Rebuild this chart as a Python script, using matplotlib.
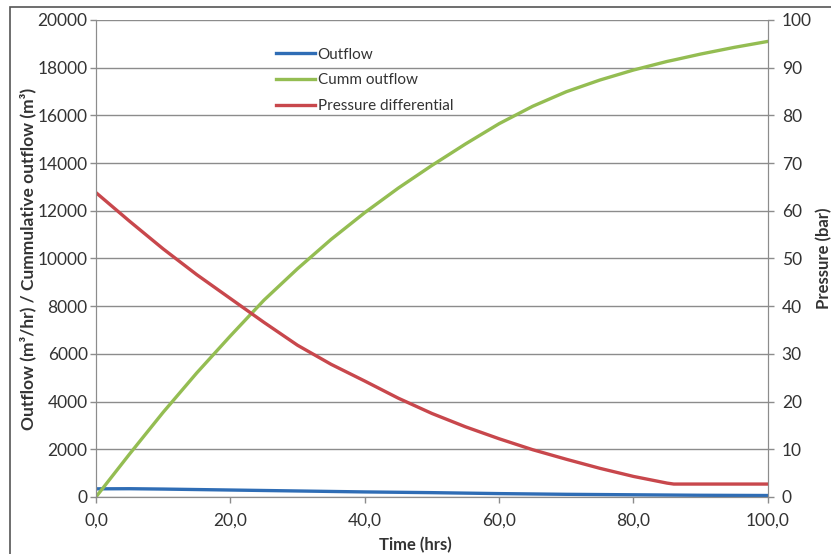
############################### DATA ##########################################

import numpy as np
import matplotlib.pyplot as plt
from matplotlib.patches import Rectangle

# tijd in uren
time_hrs = [0, 5, 10, 15, 20, 25, 30, 35, 40, 45, 50,
            55, 60, 65, 70, 75, 80, 85, 86, 90, 95, 100]

# outflow (m3/hr)
outflow = [340, 345, 330, 310, 290, 270, 250, 230, 210, 195, 180,
           160, 140, 125, 110, 100, 90, 80, 78, 70, 65, 60]

# cumulatieve outflow (m3)
cumm_outflow = [0, 1800, 3550, 5200, 6750, 8250, 9570, 10800, 11920, 12950, 13900,
                14800, 15650, 16380, 16990, 17480, 17900, 18260, 18320, 18570, 18850, 19100]

# drukverschil (bar)
pressure = [63.8, 57.8, 52.0, 46.6, 41.6, 36.6, 31.8, 27.8, 24.3, 20.7, 17.5,
            14.7, 12.2, 9.9, 7.9, 6.0, 4.3, 2.9, 2.7, 2.7, 2.7, 2.7]

left_ticks  = list(range(0, 20001, 2000))
right_ticks = list(range(0, 101, 10))
x_ticks     = [0, 20, 40, 60, 80, 100]

############################### STYLE #########################################

plt.rcParams['font.family'] = ['Lato', 'DejaVu Sans']
c_blue  = '#2F6DB5'
c_green = '#94BD52'
c_red   = '#C8474C'
c_grid  = '#8C8C8C'
c_text  = '#333333'

############################### PLOT ##########################################

fig = plt.figure(figsize=(8.31, 5.54), dpi=100)
ax  = fig.add_axes([0.1155, 0.103, 0.8085, 0.861])
ax2 = ax.twinx()

# kader rond de grafiek (rechts en onder buiten beeld)
fig.patches.append(Rectangle((0.012, -0.05), 1.1, 1.037, transform=fig.transFigure,
                             fill=False, edgecolor='#555555', linewidth=1.2))

l1, = ax.plot(time_hrs, outflow, color=c_blue, lw=2.4, label='Outflow')
l2, = ax.plot(time_hrs, cumm_outflow, color=c_green, lw=2.4, label='Cumm outflow')
l3, = ax2.plot(time_hrs, pressure, color=c_red, lw=2.4, label='Pressure differential')

ax.set_xlim(0, 100)
ax.set_ylim(0, 20000)
ax2.set_ylim(0, 100)

ax.set_xticks(x_ticks)
ax.set_xticklabels([('%.1f' % v).replace('.', ',') for v in x_ticks])
ax.set_yticks(left_ticks)
ax2.set_yticks(right_ticks)

ax.yaxis.grid(True, color=c_grid, linewidth=1.0)
ax.set_axisbelow(True)

for a in [ax, ax2]:
    a.spines['top'].set_visible(False)
    for s in ['left', 'right', 'bottom']:
        a.spines[s].set_color(c_grid)
    a.tick_params(colors=c_grid, labelcolor=c_text, labelsize=12.5,
                  length=4, width=1.0, direction='out')
ax.tick_params(axis='y', pad=2)
ax.tick_params(axis='x', pad=7)
ax2.tick_params(axis='y', pad=6)

ax.set_xlabel('Time (hrs)', fontsize=12, fontweight='bold', color=c_text)
ax.xaxis.set_label_coords(0.475, -0.084)
ax.set_ylabel('Outflow (m³/hr) / Cummulative outflow (m³)', fontsize=12.5,
              fontweight='bold', color=c_text, labelpad=1)
ax2.set_ylabel('Pressure (bar)', fontsize=12, fontweight='bold',
               color=c_text, labelpad=3)

leg = ax.legend(handles=[l1, l2, l3], loc='upper left', bbox_to_anchor=(0.248, 0.971),
                frameon=False, fontsize=11, handlelength=2.5, handletextpad=0.2,
                labelspacing=0.78)
for t in leg.get_texts():
    t.set_color(c_text)

fig.savefig('out.png', dpi=100)

############################### THE END #######################################
